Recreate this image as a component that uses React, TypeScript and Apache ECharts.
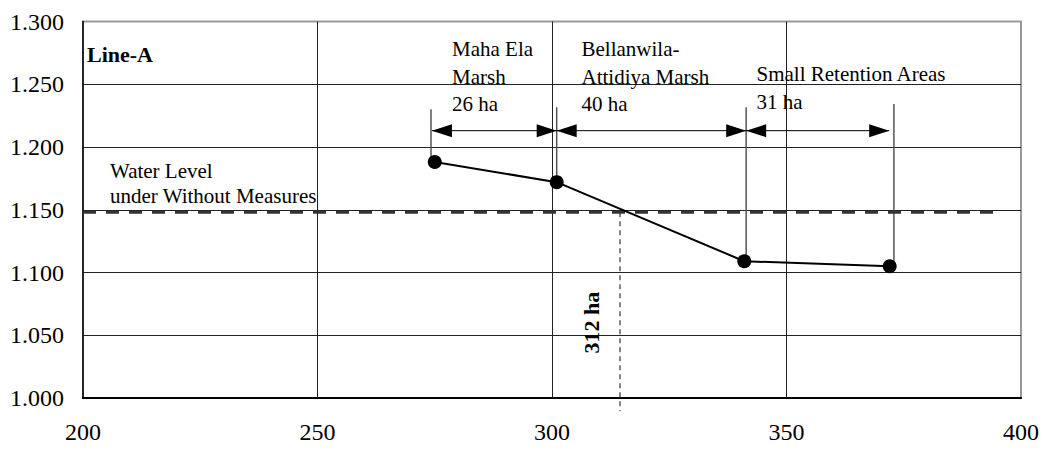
import React, { useEffect, useRef } from "react";
import * as echarts from "echarts";

// ---- data ----
const xTicks = [200, 250, 300, 350, 400];
const yTicks = [1.0, 1.05, 1.1, 1.15, 1.2, 1.25, 1.3];
const cumArea = [275, 301, 341, 372]; // ha (x)
const waterLevel = [1.188, 1.172, 1.109, 1.105]; // y
const withoutMeasuresLevel = 1.148;
const withoutMeasuresX = [200, 395];
const crossingX = 314.5;
const crossingBottom = 0.9895;
// marker verticals: [x, top, bottom]
const markerLines = [
  [274.2, 1.2301, 1.188],
  [301.0, 1.2317, 1.172],
  [341.4, 1.2317, 1.109],
  [372.9, 1.2343, 1.105],
];
// arrows: [xFrom, xTo, y]
const arrowSegments = [
  [274.4, 301.0, 1.213],
  [301.0, 341.4, 1.213],
  [341.4, 371.9, 1.213],
];

const FONT = "Liberation Serif, Times New Roman, serif";

export default function App() {
  const ref = useRef<HTMLDivElement>(null);
  useEffect(() => {
    if (!ref.current) return;
    const chart = echarts.init(ref.current, null, { renderer: "svg" });
    const txt = (text: string, x: number, y: number, extra: any = {}) => ({
      type: "text",
      x,
      y,
      z: 50,
      style: {
        text,
        fill: "#000",
        fontSize: 21,
        fontFamily: FONT,
        align: "left",
        verticalAlign: "middle",
        ...extra,
      },
    });
    chart.setOption({
      animation: false,
      backgroundColor: "#fff",
      grid: {
        left: 83,
        right: 24,
        top: 21.5,
        bottom: 52,
        show: true,
        borderColor: "#999",
        borderWidth: 2,
        backgroundColor: "transparent",
      },
      xAxis: {
        type: "value",
        min: xTicks[0],
        max: xTicks[xTicks.length - 1],
        interval: 50,
        axisLine: { show: true, onZero: false, lineStyle: { color: "#000", width: 2 } },
        axisTick: { show: false },
        axisLabel: { fontSize: 24, fontFamily: FONT, color: "#000", margin: 22 },
        splitLine: {
          show: true,
          showMinLine: false,
          showMaxLine: false,
          lineStyle: { color: "#222", width: 1 },
        },
      },
      yAxis: {
        type: "value",
        min: yTicks[0],
        max: yTicks[yTicks.length - 1],
        interval: 0.05,
        axisLine: { show: true, onZero: false, lineStyle: { color: "#000", width: 1.5 } },
        axisTick: { show: false },
        axisLabel: {
          fontSize: 24,
          fontFamily: FONT,
          color: "#000",
          margin: 19,
          formatter: (v: number) => v.toFixed(3),
        },
        splitLine: {
          show: true,
          showMinLine: false,
          showMaxLine: false,
          lineStyle: { color: "#222", width: 1 },
        },
      },
      series: [
        {
          type: "custom",
          name: "markers",
          silent: true,
          z: 3,
          data: markerLines,
          encode: { x: 0, y: [1, 2] },
          renderItem: (_p: any, api: any) => {
            const a = api.coord([api.value(0), api.value(1)]);
            const b = api.coord([api.value(0), api.value(2)]);
            return {
              type: "line",
              shape: { x1: a[0], y1: a[1], x2: b[0], y2: b[1] },
              style: { stroke: "#555", lineWidth: 1.5 },
            };
          },
        },
        {
          type: "custom",
          name: "arrows",
          silent: true,
          z: 4,
          data: arrowSegments,
          encode: { x: [0, 1], y: 2 },
          renderItem: (_p: any, api: any) => {
            const a = api.coord([api.value(0), api.value(2)]);
            const b = api.coord([api.value(1), api.value(2)]);
            const L = 20;
            const H = 6.5;
            return {
              type: "group",
              children: [
                {
                  type: "line",
                  shape: { x1: a[0], y1: a[1], x2: b[0], y2: b[1] },
                  style: { stroke: "#000", lineWidth: 1 },
                },
                {
                  type: "polygon",
                  shape: { points: [[a[0], a[1]], [a[0] + L, a[1] - H], [a[0] + L, a[1] + H]] },
                  style: { fill: "#000" },
                },
                {
                  type: "polygon",
                  shape: { points: [[b[0], b[1]], [b[0] - L, b[1] - H], [b[0] - L, b[1] + H]] },
                  style: { fill: "#000" },
                },
              ],
            };
          },
        },
        {
          type: "line",
          name: "without",
          silent: true,
          z: 5,
          symbol: "none",
          data: withoutMeasuresX.map((x) => [x, withoutMeasuresLevel]),
          lineStyle: { color: "#333", width: 3, type: [13, 10] },
        },
        {
          type: "line",
          name: "crossing",
          silent: true,
          clip: false,
          z: 5,
          symbol: "none",
          data: [
            [crossingX, withoutMeasuresLevel],
            [crossingX, crossingBottom],
          ],
          lineStyle: { color: "#333", width: 1.2, type: [5, 4] },
        },
        {
          type: "line",
          name: "Line-A",
          z: 10,
          symbol: "circle",
          symbolSize: 14,
          data: cumArea.map((x, i) => [x, waterLevel[i]]),
          lineStyle: { color: "#000", width: 2 },
          itemStyle: { color: "#000" },
        },
      ],
      graphic: [
        txt("Line-A", 87, 54, { fontWeight: "bold", fontSize: 22 }),
        txt("Water Level", 110, 171),
        txt("under Without Measures", 110, 196),
        txt("Maha Ela", 452, 49.3),
        txt("Marsh", 452, 77),
        txt("26 ha", 452, 104.3),
        txt("Bellanwila-", 581.5, 49.3),
        txt("Attidiya Marsh", 581.5, 77),
        txt("40 ha", 581.5, 104.3),
        txt("Small Retention Areas", 756.5, 74.3),
        txt("31 ha", 756.5, 102),
        {
          type: "text",
          x: 591,
          y: 322.5,
          rotation: Math.PI / 2,
          z: 50,
          style: {
            text: "312 ha",
            fill: "#000",
            fontSize: 22,
            fontWeight: "bold",
            fontFamily: FONT,
            align: "center",
            verticalAlign: "middle",
          },
        },
      ],
    });
    return () => chart.dispose();
  }, []);
  return (
    <div
      ref={ref}
      style={{ position: "absolute", left: 0, top: 0, width: 1045, height: 450 }}
    />
  );
}
